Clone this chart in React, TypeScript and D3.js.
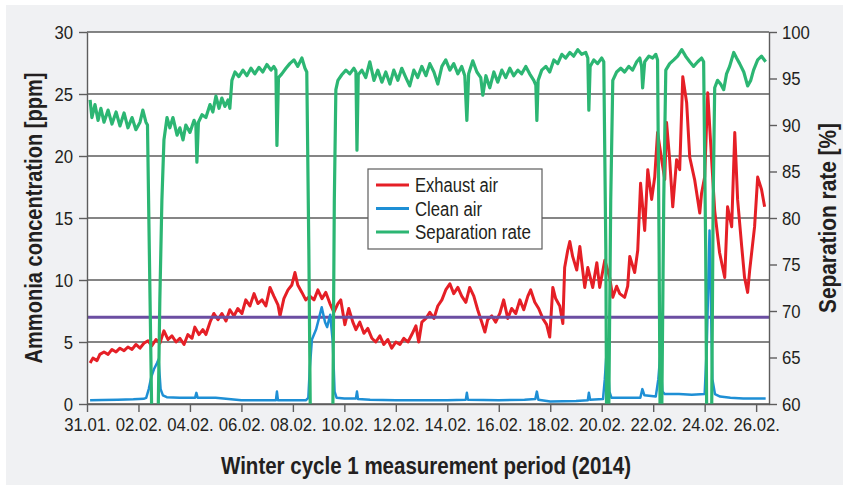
import React, { useRef, useEffect } from "react";
import * as d3 from "d3";

// measurement window, winter cycle 1 (2014)
const startDate = new Date(2014, 0, 31);
const endDate = new Date(2014, 1, 26, 12);

// x ticks: days after 31.01.
const tickDays = [0, 2, 4, 6, 8, 10, 12, 14, 16, 18, 20, 22, 24, 26];
const tickLabels = ["31.01.", "02.02.", "04.02.", "06.02.", "08.02.", "10.02.", "12.02.", "14.02.", "16.02.", "18.02.", "20.02.", "22.02.", "24.02.", "26.02."];

const ppmTicks = [0, 5, 10, 15, 20, 25, 30];
const rateTicks = [60, 65, 70, 75, 80, 85, 90, 95, 100];

const limitPpm = 7;

// [days after 31.01., ppm]
const exhaustAir = [
  [0.12, 3.3], [0.23, 3.7], [0.39, 3.5], [0.5, 4.0], [0.66, 4.2], [0.82, 4.0], [0.97, 4.4], [1.13, 4.2],
  [1.28, 4.5], [1.44, 4.3], [1.59, 4.6], [1.75, 4.4], [1.9, 4.8], [2.06, 4.5], [2.21, 4.9], [2.37, 5.1],
  [2.52, 4.7], [2.68, 5.2], [2.83, 4.9], [2.99, 5.9], [3.15, 5.2], [3.3, 5.5], [3.46, 5.0], [3.61, 5.3],
  [3.77, 4.8], [3.92, 5.6], [4.08, 5.3], [4.19, 6.2], [4.35, 5.6], [4.5, 6.0], [4.62, 5.6], [4.78, 6.6],
  [4.93, 7.3], [5.09, 6.8], [5.24, 7.3], [5.4, 6.7], [5.55, 7.6], [5.71, 7.1], [5.86, 7.7], [6.02, 7.3],
  [6.17, 8.4], [6.33, 7.9], [6.49, 8.9], [6.64, 8.1], [6.8, 8.4], [6.95, 7.9], [7.11, 9.4], [7.26, 8.7],
  [7.42, 8.0], [7.5, 7.1], [7.65, 8.5], [7.81, 9.2], [7.96, 9.6], [8.08, 10.6], [8.19, 9.6], [8.35, 9.0],
  [8.5, 8.4], [8.66, 8.7], [8.82, 8.4], [8.97, 9.2], [9.13, 8.5], [9.28, 9.0], [9.44, 8.1], [9.59, 7.4],
  [9.75, 8.1], [9.86, 8.4], [10.02, 6.4], [10.17, 7.7], [10.33, 6.6], [10.45, 6.0], [10.6, 6.6], [10.76, 5.7],
  [10.91, 6.1], [11.07, 5.3], [11.22, 5.0], [11.38, 5.5], [11.53, 4.8], [11.69, 5.2], [11.84, 4.5], [12.0, 5.0],
  [12.16, 4.8], [12.31, 5.3], [12.47, 5.0], [12.62, 5.6], [12.78, 6.3], [12.89, 5.0], [13.01, 6.6], [13.17, 6.9],
  [13.32, 7.4], [13.48, 6.9], [13.63, 7.9], [13.79, 8.4], [13.94, 9.2], [14.1, 9.7], [14.25, 8.9], [14.41, 9.4],
  [14.56, 8.7], [14.72, 8.2], [14.87, 9.4], [15.03, 8.7], [15.18, 7.6], [15.34, 6.6], [15.46, 5.8], [15.57, 6.8],
  [15.73, 7.1], [15.88, 6.6], [16.04, 7.3], [16.19, 8.4], [16.35, 6.9], [16.5, 7.7], [16.66, 7.3], [16.82, 8.4],
  [16.97, 7.6], [17.13, 8.7], [17.24, 9.2], [17.4, 8.2], [17.55, 7.7], [17.71, 6.9], [17.86, 6.4], [17.98, 5.4],
  [18.1, 9.4], [18.21, 8.5], [18.37, 7.9], [18.49, 6.5], [18.56, 11.0], [18.68, 12.4], [18.76, 13.1], [18.87, 11.9],
  [19.03, 10.8], [19.15, 12.7], [19.34, 9.4], [19.46, 11.0], [19.65, 9.4], [19.81, 11.4], [19.92, 9.4], [20.12, 11.6],
  [20.31, 10.2], [20.43, 8.6], [20.58, 9.5], [20.7, 8.9], [20.89, 8.6], [21.01, 9.5], [21.09, 11.9], [21.28, 10.6],
  [21.4, 12.4], [21.51, 17.8], [21.67, 14.0], [21.79, 18.9], [21.94, 16.5], [22.06, 18.3], [22.17, 21.9], [22.33, 19.7],
  [22.45, 18.1], [22.52, 22.7], [22.64, 19.7], [22.76, 15.9], [22.91, 19.7], [23.03, 18.9], [23.15, 26.4], [23.3, 24.3],
  [23.42, 19.9], [23.61, 18.1], [23.81, 15.4], [23.88, 17.0], [24.0, 18.3], [24.12, 25.1], [24.27, 19.7], [24.39, 15.6],
  [24.58, 12.2], [24.78, 10.2], [24.89, 15.9], [25.05, 14.3], [25.17, 21.9], [25.28, 16.5], [25.44, 12.7], [25.55, 10.2],
  [25.67, 9.0], [25.75, 10.8], [25.94, 14.3], [26.06, 18.3], [26.21, 17.3], [26.33, 15.9],
];

const cleanAir = [
  [0.12, 0.3], [0.6, 0.32], [1.2, 0.35], [1.8, 0.38], [2.2, 0.42], [2.3, 0.5], [2.4, 1.2], [2.5, 2.2],
  [2.6, 2.8], [2.72, 3.3], [2.78, 3.6], [2.86, 1.2], [2.95, 0.7], [3.1, 0.55], [3.6, 0.5], [4.2, 0.5],
  [4.25, 0.9], [4.3, 0.5], [5.0, 0.5], [5.5, 0.4], [6.0, 0.3], [7.0, 0.3], [7.34, 0.3], [7.38, 1.0],
  [7.42, 0.3], [8.0, 0.3], [8.5, 0.3], [8.6, 0.5], [8.66, 3.0], [8.74, 5.2], [8.9, 6.0], [9.0, 6.8],
  [9.12, 7.8], [9.25, 6.6], [9.33, 6.2], [9.45, 7.2], [9.55, 5.0], [9.62, 1.0], [9.7, 0.5], [10.0, 0.45],
  [10.45, 0.45], [10.49, 1.0], [10.53, 0.4], [11.0, 0.35], [12.0, 0.3], [13.0, 0.3], [14.0, 0.3], [14.72, 0.35],
  [14.76, 0.9], [14.8, 0.35], [16.0, 0.3], [17.0, 0.35], [17.42, 0.4], [17.48, 1.0], [17.54, 0.35], [18.0, 0.2],
  [19.0, 0.25], [19.46, 0.3], [19.5, 0.9], [19.55, 0.35], [20.05, 0.4], [20.12, 2.0], [20.2, 4.5], [20.3, 1.0],
  [20.38, 0.5], [21.0, 0.5], [21.5, 0.5], [21.58, 1.2], [21.66, 0.7], [22.1, 0.6], [22.2, 2.0], [22.27, 3.8],
  [22.36, 1.0], [22.45, 0.8], [23.0, 0.8], [23.5, 0.75], [24.0, 0.8], [24.08, 4.5], [24.19, 14.0], [24.3, 2.0],
  [24.4, 0.8], [24.6, 0.6], [25.0, 0.5], [25.5, 0.45], [26.0, 0.45], [26.37, 0.45],
];

// [days after 31.01., %]
const separationRate = [
  [0.12, 92.7], [0.19, 90.8], [0.31, 92.2], [0.43, 90.5], [0.54, 91.8], [0.66, 90.3], [0.82, 91.6], [0.97, 90.1],
  [1.13, 91.4], [1.28, 89.9], [1.44, 91.3], [1.59, 89.7], [1.75, 90.8], [1.9, 89.5], [2.06, 90.3], [2.17, 91.6],
  [2.29, 90.3], [2.35, 90.0], [2.45, 71.2], [2.52, 58], [2.76, 58], [2.83, 71.2], [2.91, 81.9], [2.99, 88.4],
  [3.11, 90.8], [3.22, 89.7], [3.34, 90.8], [3.5, 88.9], [3.61, 89.7], [3.73, 88.4], [3.84, 90.0], [4.0, 89.2],
  [4.16, 90.5], [4.23, 90.0], [4.27, 86.0], [4.33, 90.3], [4.47, 91.1], [4.62, 90.8], [4.78, 92.2], [4.89, 91.4],
  [5.01, 93.1], [5.13, 91.8], [5.24, 92.9], [5.36, 92.0], [5.48, 92.7], [5.55, 91.8], [5.63, 94.8], [5.75, 95.7],
  [5.9, 95.2], [6.06, 95.9], [6.21, 95.3], [6.37, 96.1], [6.52, 95.5], [6.68, 96.2], [6.83, 95.7], [6.99, 96.5],
  [7.15, 95.9], [7.26, 96.3], [7.34, 95.9], [7.38, 87.8], [7.44, 95.1], [7.57, 95.5], [7.73, 96.1], [7.88, 96.6],
  [8.04, 97.0], [8.19, 96.3], [8.35, 97.2], [8.47, 96.1], [8.54, 95.7], [8.62, 76.6], [8.68, 58], [9.55, 58],
  [9.61, 81.9], [9.67, 93.8], [9.75, 94.8], [9.9, 95.4], [10.06, 95.9], [10.21, 95.5], [10.37, 96.1], [10.45, 95.7],
  [10.49, 87.3], [10.54, 95.4], [10.68, 95.9], [10.83, 95.1], [10.99, 96.8], [11.15, 94.8], [11.3, 95.9], [11.46, 94.6],
  [11.61, 95.7], [11.77, 94.4], [11.92, 95.9], [12.08, 94.8], [12.23, 96.1], [12.39, 95.1], [12.54, 94.2], [12.7, 95.9],
  [12.85, 95.1], [13.01, 96.3], [13.17, 95.3], [13.32, 96.6], [13.48, 95.7], [13.63, 94.4], [13.79, 96.3], [13.94, 97.0],
  [14.1, 95.9], [14.25, 96.6], [14.41, 95.5], [14.56, 96.3], [14.68, 95.3], [14.76, 90.5], [14.83, 95.5], [14.99, 96.9],
  [15.15, 95.7], [15.3, 95.1], [15.38, 93.2], [15.5, 95.3], [15.65, 94.0], [15.81, 95.7], [15.96, 94.6], [16.12, 95.9],
  [16.27, 95.1], [16.43, 96.1], [16.58, 95.3], [16.74, 95.9], [16.89, 95.5], [17.05, 96.3], [17.2, 95.5], [17.36, 94.8],
  [17.44, 94.3], [17.48, 90.5], [17.53, 94.8], [17.67, 95.9], [17.83, 96.3], [17.98, 95.7], [18.14, 97.0], [18.29, 96.6],
  [18.45, 97.6], [18.6, 97.2], [18.76, 97.8], [18.91, 97.4], [19.07, 98.1], [19.22, 97.6], [19.38, 97.8], [19.46, 97.2],
  [19.5, 91.6], [19.55, 96.3], [19.69, 97.0], [19.84, 96.6], [20.0, 97.2], [20.08, 96.8], [20.16, 76.6], [20.19, 58],
  [20.27, 58], [20.35, 81.9], [20.43, 94.8], [20.58, 95.7], [20.74, 96.1], [20.89, 95.7], [21.05, 96.3], [21.2, 95.9],
  [21.36, 96.8], [21.48, 97.2], [21.55, 96.3], [21.59, 94.0], [21.67, 96.8], [21.83, 97.4], [21.98, 97.2], [22.1, 97.6],
  [22.17, 97.0], [22.23, 76.6], [22.27, 58], [22.33, 58], [22.41, 81.9], [22.49, 95.9], [22.64, 96.6], [22.8, 97.0],
  [22.95, 97.4], [23.11, 98.1], [23.26, 97.4], [23.42, 96.8], [23.57, 96.3], [23.73, 96.8], [23.88, 97.2], [23.96, 96.8],
  [24.04, 76.6], [24.08, 58], [24.27, 58], [24.33, 81.9], [24.39, 94.0], [24.5, 94.8], [24.62, 94.4], [24.74, 93.8],
  [24.85, 95.5], [24.97, 96.3], [25.13, 97.8], [25.24, 97.2], [25.36, 96.6], [25.52, 95.7], [25.67, 94.2], [25.79, 94.8],
  [25.9, 95.9], [26.06, 97.0], [26.21, 97.4], [26.37, 96.8],
];

const series = [
  { name: "Exhaust air", data: exhaustAir, color: "#e51f26", width: 3, axis: "left" },
  { name: "Clean air", data: cleanAir, color: "#1e8fd5", width: 2.5, axis: "left" },
  { name: "Separation rate", data: separationRate, color: "#2cb673", width: 3.2, axis: "right" },
];

// measured text widths in the reference (condensed face)
const legendWidths = [83, 67, 116];

const FONT = "'Liberation Sans', Arial, Helvetica, sans-serif";
const TEXT = "#231f20";
const GRID = "#5d5d5d";

function dayToDate(t: number) {
  return new Date(startDate.getTime() + t * 864e5);
}

// squeeze text horizontally, the original uses a condensed face
function condense(sel: any, factor: number) {
  sel.each(function (this: SVGTextElement) {
    const w = this.getComputedTextLength();
    d3.select(this).attr("textLength", w * factor).attr("lengthAdjust", "spacingAndGlyphs");
  });
}

function App() {
  const svgRef = useRef<SVGSVGElement>(null);

  useEffect(() => {
    document.body.style.margin = "0";
    const svg = d3.select(svgRef.current);
    svg.selectAll("*").remove();

    const width = 843;
    const height = 485;
    const margin = { top: 32, right: 74, bottom: 81, left: 87 };
    const x0 = margin.left, x1 = width - margin.right;
    const y0 = height - margin.bottom, y1 = margin.top;

    svg.attr("width", width).attr("height", height);

    svg.append("rect").attr("x", 6).attr("y", 5).attr("width", width - 6).attr("height", height - 5).attr("fill", "#f0f1f3");
    svg.append("rect").attr("x", x0).attr("y", y1).attr("width", x1 - x0).attr("height", y0 - y1).attr("fill", "white");

    const x = d3.scaleTime().domain([startDate, endDate]).range([x0, x1]);
    const y = d3.scaleLinear().domain([0, 30]).range([y0, y1]);
    const yR = d3.scaleLinear().domain([60, 100]).range([y0, y1]);

    // gridlines on the ppm ticks
    svg.append("g")
      .selectAll("line")
      .data(ppmTicks)
      .enter()
      .append("line")
      .attr("x1", x0).attr("x2", x1)
      .attr("y1", d => y(d)).attr("y2", d => y(d))
      .attr("stroke", GRID).attr("stroke-width", 1.4);

    svg.append("defs").append("clipPath").attr("id", "plot-clip")
      .append("rect").attr("x", x0).attr("y", y1).attr("width", x1 - x0).attr("height", y0 - y1);

    const plot = svg.append("g").attr("clip-path", "url(#plot-clip)");

    const drawLine = (s: any) => {
      const yy = s.axis === "left" ? y : yR;
      const line = d3.line<number[]>()
        .x(d => x(dayToDate(d[0])))
        .y(d => yy(d[1]));
      plot.append("path")
        .datum(s.data)
        .attr("d", line)
        .attr("fill", "none")
        .attr("stroke", s.color)
        .attr("stroke-width", s.width)
        .attr("stroke-linejoin", "round");
    };

    drawLine(series[0]);
    plot.append("line")
      .attr("x1", x0).attr("x2", x1)
      .attr("y1", y(limitPpm)).attr("y2", y(limitPpm))
      .attr("stroke", "#6b4ea2").attr("stroke-width", 3);
    drawLine(series[1]);
    drawLine(series[2]);

    // axes
    const styleAxis = (g: any) => {
      g.selectAll("path").attr("stroke", GRID).attr("stroke-width", 1.4);
      g.selectAll("line").attr("stroke", GRID).attr("stroke-width", 1.4);
      g.selectAll("text").attr("fill", TEXT).style("font-family", FONT).style("font-size", "19px")
        .call(condense, 0.88);
    };

    svg.append("g")
      .attr("transform", `translate(${x0},0)`)
      .call(d3.axisLeft(y).tickValues(ppmTicks).tickSize(8).tickSizeOuter(0).tickPadding(6))
      .call(styleAxis);

    svg.append("g")
      .attr("transform", `translate(${x1},0)`)
      .call(d3.axisRight(yR).tickValues(rateTicks).tickSize(8).tickSizeOuter(0).tickPadding(5))
      .call(styleAxis);

    svg.append("g")
      .attr("transform", `translate(0,${y0})`)
      .call(d3.axisBottom(x)
        .tickValues(tickDays.map(dayToDate))
        .tickFormat((d, i) => tickLabels[i])
        .tickSize(8).tickSizeOuter(0).tickPadding(6))
      .call(styleAxis);

    // axis titles
    const title = (sel: any, len: number) =>
      sel.attr("text-anchor", "middle")
        .attr("fill", TEXT)
        .attr("textLength", len)
        .attr("lengthAdjust", "spacingAndGlyphs")
        .style("font-family", FONT).style("font-weight", "bold").style("font-size", "24px");

    svg.append("text")
      .attr("transform", `translate(42,${(y0 + y1) / 2}) rotate(-90)`)
      .call(title, 291)
      .text("Ammonia concentration [ppm]");

    svg.append("text")
      .attr("transform", `translate(836,${(y0 + y1) / 2}) rotate(-90)`)
      .call(title, 190)
      .text("Separation rate [%]");

    svg.append("text")
      .attr("x", (x0 + x1) / 2 - 2)
      .attr("y", 474)
      .call(title, 410)
      .text("Winter cycle 1 measurement period (2014)");

    // legend
    const legend = svg.append("g").attr("transform", "translate(368,169)");
    legend.append("rect")
      .attr("width", 174).attr("height", 80)
      .attr("fill", "white").attr("stroke", GRID).attr("stroke-width", 1.2);
    series.forEach((s, i) => {
      const row = legend.append("g").attr("transform", `translate(0,${16 + i * 23.5})`);
      row.append("line").attr("x1", 8).attr("x2", 41).attr("stroke", s.color).attr("stroke-width", 3);
      row.append("text")
        .attr("x", 47).attr("y", 7)
        .attr("fill", TEXT)
        .attr("textLength", legendWidths[i])
        .attr("lengthAdjust", "spacingAndGlyphs")
        .style("font-family", FONT).style("font-size", "20px")
        .text(s.name);
    });
  }, []);

  return <svg ref={svgRef} style={{ display: "block" }}></svg>;
}

export default App;
